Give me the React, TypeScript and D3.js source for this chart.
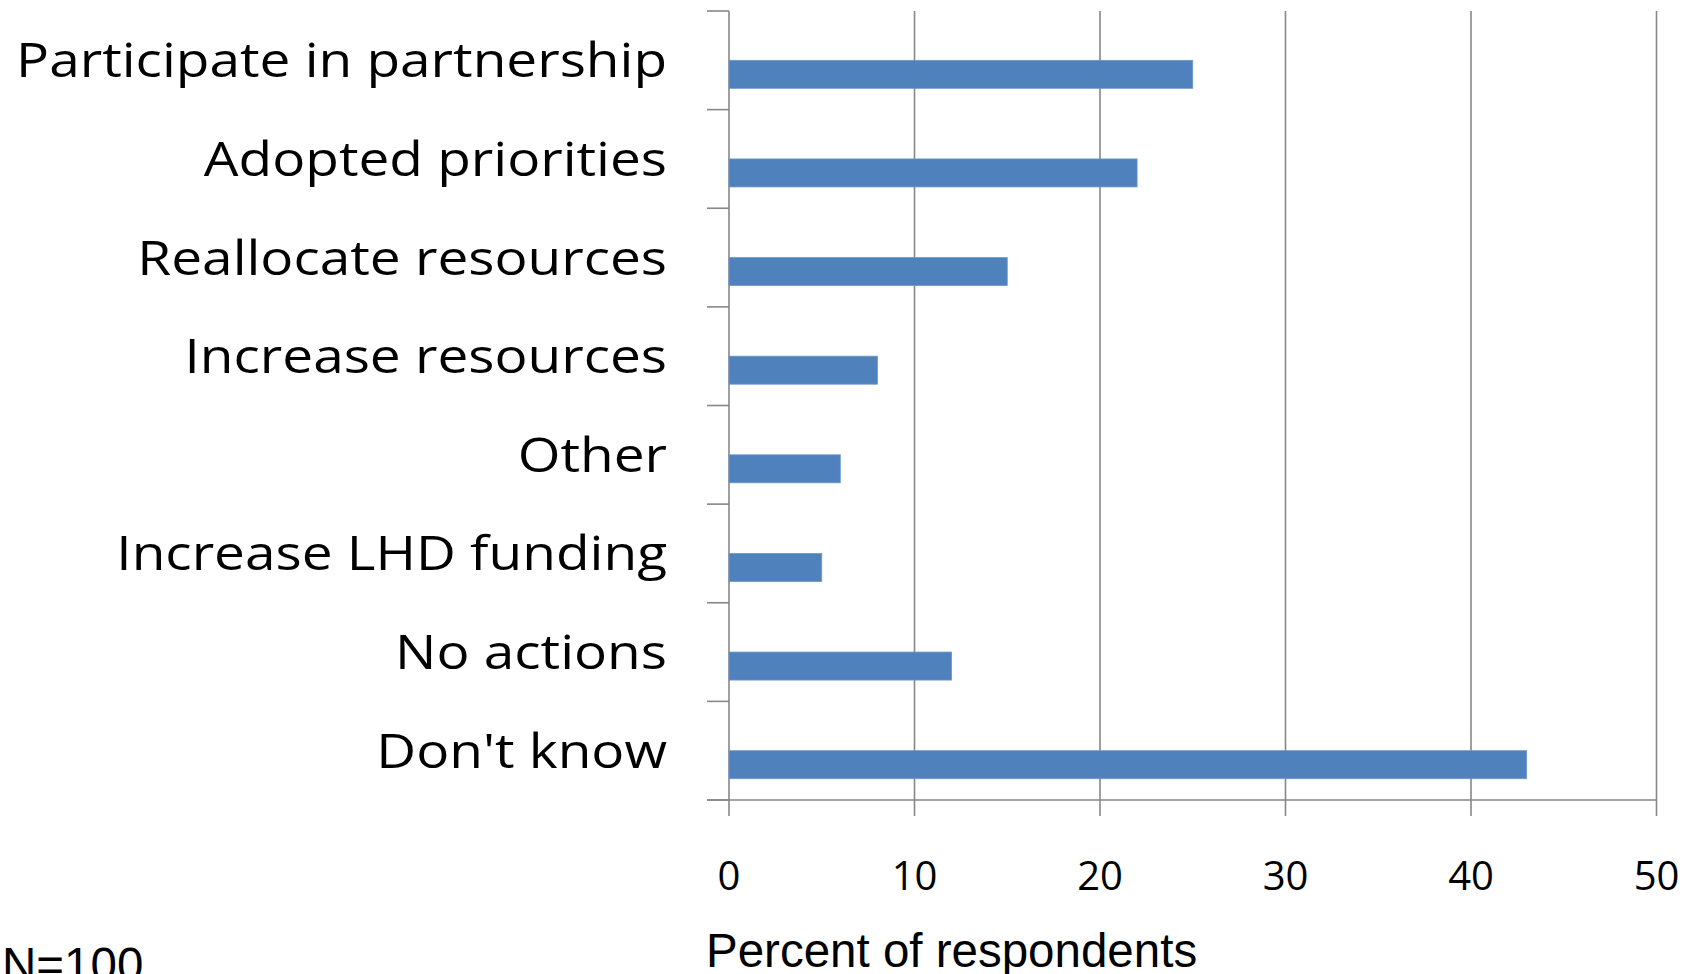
import React from "react";
import * as d3 from "d3";

const categories = [
  "Participate in partnership",
  "Adopted priorities",
  "Reallocate resources",
  "Increase resources",
  "Other",
  "Increase LHD funding",
  "No actions",
  "Don't know",
];
const values = [25, 22, 15, 8, 6, 5, 12, 43];
const xTicks = [0, 10, 20, 30, 40, 50];

export default function App() {
  const W = 1698, H = 974;
  const x = d3.scaleLinear().domain([0, 50]).range([729, 1656.5]);
  const y = d3.scaleBand<string>().domain(categories).range([11, 800]).paddingInner(0).paddingOuter(0);
  const bw = y.bandwidth();
  const grid = "#878787";
  const boundaries = d3.range(categories.length + 1).map((i) => 11 + i * bw);
  return (
    <svg width={W} height={H} style={{ position: "absolute", left: 0, top: 0, background: "#fff" }}>
      {xTicks.map((t) => (
        <line key={"g" + t} x1={x(t)} x2={x(t)} y1={11} y2={816} stroke={grid} strokeWidth={1.6} />
      ))}
      {boundaries.map((b, i) => (
        <line key={"yt" + i} x1={707} x2={729} y1={b} y2={b} stroke={grid} strokeWidth={1.6} />
      ))}
      <line x1={707} x2={1656.5} y1={800} y2={800} stroke={grid} strokeWidth={1.6} />
      {categories.map((c, i) => (
        <rect
          key={c}
          x={x(0)}
          y={(y(c) as number) + bw * 0.5}
          width={x(values[i]) - x(0)}
          height={bw * 0.284}
          fill="#4F81BD"
          stroke="#6f97c8"
          strokeWidth={0.8}
        />
      ))}
      {categories.map((c) => (
        <text
          key={"l" + c}
          transform={`translate(667, ${(y(c) as number) + bw * 0.5 + 17}) scale(1.145, 1)`}
          x={0}
          y={0}
          textAnchor="end"
          fontFamily="'Open Sans', sans-serif"
          fontSize={48}
          fill="#000"
        >
          {c}
        </text>
      ))}
      {xTicks.map((t) => (
        <text
          key={"t" + t}
          x={x(t)}
          y={890}
          textAnchor="middle"
          fontFamily="'Open Sans', sans-serif"
          fontSize={40}
          fill="#000"
        >
          {t}
        </text>
      ))}
      <text x={706} y={966.5} fontFamily="'Liberation Sans', Arial, sans-serif" fontSize={47.5} fill="#000">
        Percent of respondents
      </text>
      <text x={2} y={981} fontFamily="'Liberation Sans', Arial, sans-serif" fontSize={47.5} fill="#000">
        N=100
      </text>
    </svg>
  );
}
